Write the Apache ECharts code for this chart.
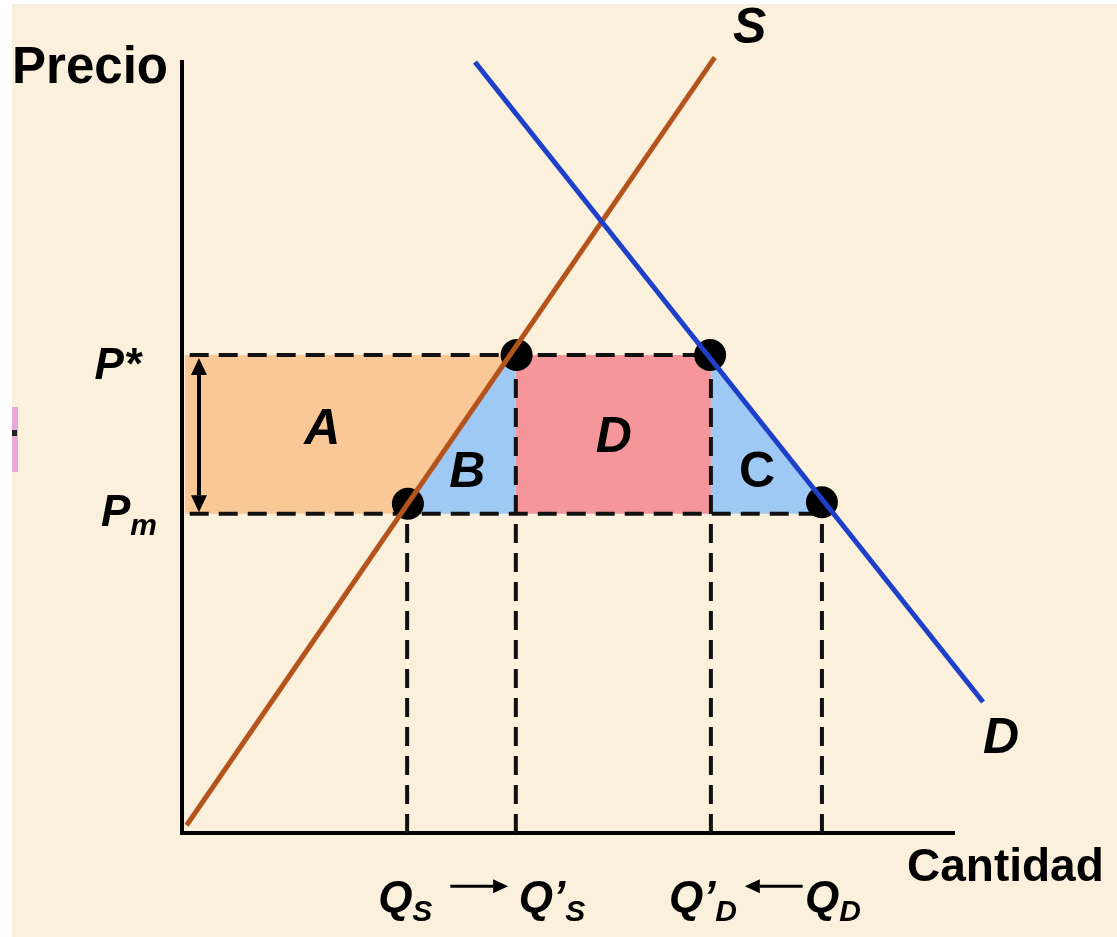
<!DOCTYPE html>
<html>
<head>
<meta charset="utf-8">
<title>Precio máximo</title>
<script src="https://cdn.jsdelivr.net/npm/echarts@6/dist/echarts.min.js"></script>
<style>
  html, body { margin: 0; padding: 0; background: #fff; }
  #paper { position: absolute; left: 12px; top: 4px; right: 0; bottom: 0; background: #fbf0db; }
  #chart { position: absolute; left: 0; top: 0; width: 1117px; height: 937px; }
</style>
</head>
<body>
<div id="paper"></div>
<div id="chart"></div>
<script>
// cantidades marcadas: Qs, Q's, Q'D, QD
var quantities = [29.2, 43.3, 68.6, 83.0];
var quantityLabels = ['{q|Q}{s|S}', '{q|Q’}{s|S}', '{q|Q’}{s|D}', '{q|Q}{s|D}'];
// precios: P* y Pm
var prices = [62, 41.4];
var priceLabels = ['{q|P*}', '{q|P}{s|m}'];

var supplyLine = [[0.6, 1.0], [69.1, 100.6]];
var demandLine = [[38.0, 100.0], [103.9, 17.0]];
var marketPoints = [[29.3, 42.7], [43.4, 62.0], [68.5, 62.0], [83.0, 42.9]];

var areaA = [[0.4, 62], [42.4, 62], [28.4, 41.4], [0.4, 41.4]];
var areaB = [[28.4, 41.4], [42.4, 62], [43.3, 62], [43.3, 41.4]];
var areaD = [[43.3, 62], [68.6, 62], [68.6, 41.4], [43.3, 41.4]];
var areaC = [[68.6, 62], [68.6, 41.4], [84.5, 41.4]];
var areaNames = ['A', 'B', 'D', 'C'];
var areaCenters = [[18.2, 52.3], [37.0, 46.7], [56.0, 51.2], [74.6, 46.7]];

// flechas: [x1, y1, x2, y2, doble punta]
var arrows = [
  [2.2, 41.6, 2.2, 61.6, 1],
  [34.8, -6.9, 42.3, -6.9, 0],
  [80.5, -6.9, 73.0, -6.9, 0]
];

var FONT = "'Liberation Sans', Arial, sans-serif";

var chart = echarts.init(document.getElementById('chart'));

function areaSeries(points, color) {
  return {
    type: 'custom',
    silent: true,
    z: 1,
    data: [points[0]],
    renderItem: function(params, api) {
      return {
        type: 'polygon',
        shape: { points: points.map(function(p) { return api.coord(p); }) },
        style: { fill: color }
      };
    }
  };
}

function curveSeries(name, points, color) {
  return {
    type: 'custom',
    name: name,
    silent: true,
    z: 4,
    clip: false,
    data: [points[0]],
    renderItem: function(params, api) {
      return {
        type: 'polyline',
        shape: { points: points.map(function(p) { return api.coord(p); }) },
        style: { stroke: color, lineWidth: 5, fill: null }
      };
    }
  };
}

function dashed(from, to) {
  return {
    type: 'line',
    silent: true,
    z: 2,
    symbol: 'none',
    data: [from, to],
    lineStyle: { color: '#111', width: 4, type: [19, 10] }
  };
}

function head(tip, from, len, half) {
  var dx = tip[0] - from[0], dy = tip[1] - from[1];
  var d = Math.sqrt(dx * dx + dy * dy) || 1;
  var ux = dx / d, uy = dy / d;
  var bx = tip[0] - ux * len, by = tip[1] - uy * len;
  return {
    base: [bx, by],
    points: [tip, [bx - uy * half, by + ux * half], [bx + uy * half, by - ux * half]]
  };
}

var guides = [
  dashed([1, prices[0]], [quantities[2], prices[0]]),
  dashed([1, prices[1]], [quantities[3], prices[1]]),
  dashed([quantities[0], 0], [quantities[0], prices[1]]),
  dashed([quantities[1], 0], [quantities[1], prices[0]]),
  dashed([quantities[2], 0], [quantities[2], prices[0]]),
  dashed([quantities[3], 0], [quantities[3], prices[1]])
];

var big = { fontFamily: FONT, fontWeight: 'bold', fontStyle: 'italic', color: '#000' };
var richQ = {
  q: Object.assign({ fontSize: 44, lineHeight: 56 }, big),
  s: Object.assign({ fontSize: 30, lineHeight: 30, verticalAlign: 'bottom' }, big)
};

var qOffsets = [[-29, 67], [3, 67], [-42, 67], [-17, 67]];
var pOffsets = [[-41, 12], [-25, 0]];

var labelData = [];
quantities.forEach(function(q, i) {
  labelData.push({
    value: [q, 0],
    label: { formatter: quantityLabels[i], align: 'left', offset: qOffsets[i], rich: richQ }
  });
});
prices.forEach(function(p, i) {
  labelData.push({
    value: [0, p],
    label: { formatter: priceLabels[i], align: 'right', offset: pOffsets[i], rich: richQ }
  });
});
areaNames.forEach(function(name, i) {
  labelData.push({
    value: areaCenters[i],
    label: Object.assign({ formatter: name, fontSize: 50 }, big, name === 'C' ? { fontStyle: 'normal' } : {})
  });
});
labelData.push({ value: supplyLine[1], label: Object.assign({ formatter: 'S', fontSize: 50, offset: [35, -28] }, big) });
labelData.push({ value: demandLine[1], label: Object.assign({ formatter: 'D', fontSize: 50, offset: [18, 37] }, big) });

var option = {
  animation: false,
  backgroundColor: 'transparent',
  grid: { left: 182, top: 62, width: 771, height: 771 },
  xAxis: {
    type: 'value', min: 0, max: 100,
    name: 'Cantidad', nameLocation: 'end', nameGap: -46,
    nameTextStyle: { fontFamily: FONT, fontWeight: 'bold', fontSize: 46, color: '#000',
      align: 'left', verticalAlign: 'top', padding: [12, 0, 0, 0] },
    axisLine: { lineStyle: { color: '#000', width: 4, cap: 'square' } },
    axisTick: { show: false }, axisLabel: { show: false }, splitLine: { show: false }
  },
  yAxis: {
    type: 'value', min: 0, max: 100,
    name: 'Precio', nameLocation: 'end', nameGap: -7,
    nameTextStyle: { fontFamily: FONT, fontWeight: 'bold', fontSize: 51, color: '#000',
      align: 'right', verticalAlign: 'middle', padding: [0, 14, 0, 0] },
    axisLine: { lineStyle: { color: '#000', width: 4, cap: 'square' } },
    axisTick: { show: false }, axisLabel: { show: false }, splitLine: { show: false }
  },
  graphic: [
    { type: 'rect', shape: { x: 12, y: 407, width: 6, height: 65 }, style: { fill: '#e6a9d9' } },
    { type: 'rect', shape: { x: 12, y: 430, width: 5, height: 6 }, style: { fill: '#222' } }
  ],
  series: [
    areaSeries(areaA, '#fac896'),
    areaSeries(areaB, '#9ec9f5'),
    areaSeries(areaD, '#f5969b'),
    areaSeries(areaC, '#9ec9f5')
  ].concat(guides).concat([
    {
      type: 'scatter',
      name: 'Puntos',
      z: 3,
      symbolSize: 32,
      itemStyle: { color: '#000', opacity: 1 },
      data: marketPoints
    },
    curveSeries('S', supplyLine, '#b5531c'),
    curveSeries('D', demandLine, '#1e3fc8'),
    {
      type: 'custom',
      name: 'Flechas',
      silent: true,
      z: 5,
      clip: false,
      data: arrows,
      renderItem: function(params, api) {
        var a = api.coord([api.value(0), api.value(1)]);
        var b = api.coord([api.value(2), api.value(3)]);
        var dbl = api.value(4);
        var len = dbl ? 17 : 15, half = dbl ? 8 : 7;
        var hb = head(b, a, len, half);
        var children = [];
        var start = a;
        if (dbl) {
          var ha = head(a, b, len, half);
          start = ha.base;
          children.push({ type: 'polygon', shape: { points: ha.points }, style: { fill: '#000' } });
        }
        children.push({ type: 'polygon', shape: { points: hb.points }, style: { fill: '#000' } });
        children.push({ type: 'line', shape: { x1: start[0], y1: start[1], x2: hb.base[0], y2: hb.base[1] },
          style: { stroke: '#000', lineWidth: dbl ? 4 : 3 } });
        return { type: 'group', children: children };
      }
    },
    {
      type: 'scatter',
      name: 'Etiquetas',
      z: 6,
      clip: false,
      silent: true,
      symbolSize: 1,
      itemStyle: { color: 'transparent', opacity: 1 },
      label: { show: true, position: 'inside', color: '#000' },
      data: labelData
    }
  ])
};

chart.setOption(option);
</script>
</body>
</html>
